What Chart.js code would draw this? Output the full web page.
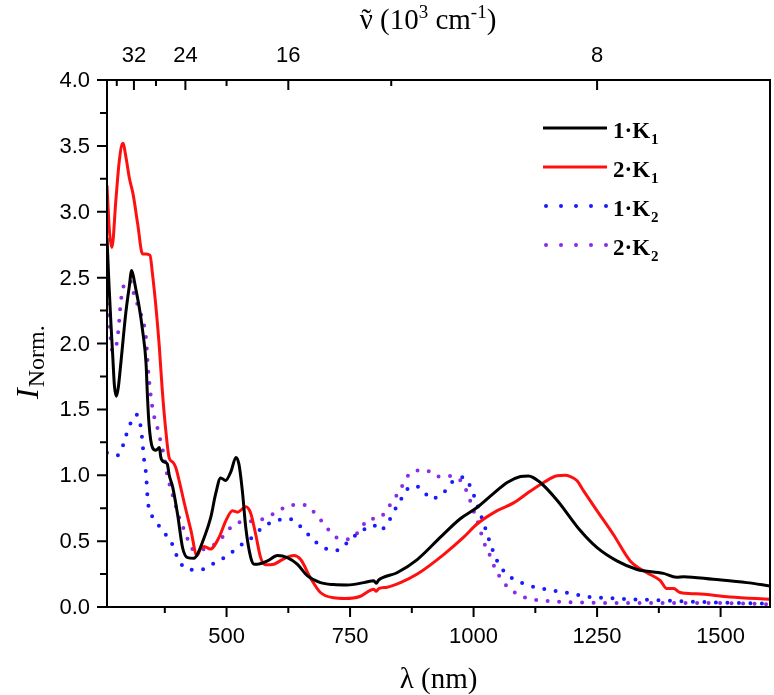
<!DOCTYPE html>
<html>
<head>
<meta charset="utf-8">
<script src="https://cdn.jsdelivr.net/npm/chart.js@4.4.1/dist/chart.umd.min.js"></script>
<style>
  html, body { margin: 0; padding: 0; background: #fff; }
</style>
</head>
<body>
<canvas id="chart" width="774" height="695"></canvas>
<script>
// axis ranges and tick values
const lamMin = 258, lamMax = 1600;
const lamMajor = [500, 750, 1000, 1250, 1500];
const lamMinor = [375, 625, 875, 1125, 1375];
const nuMajor = [32, 24, 16, 8];      // 10^3 cm-1
const nuMinor = [36, 28, 20, 12];
const yMajor = [0, 0.5, 1, 1.5, 2, 2.5, 3, 3.5, 4];
const yMinor = [0.25, 0.75, 1.25, 1.75, 2.25, 2.75, 3.25, 3.75];

// series names (base + subscript)
const legendBase = ["1·K", "2·K", "1·K", "2·K"];
const legendSub = ["1", "1", "2", "2"];

// 1·K1 (black)
const k11Nm = [258, 262, 266, 270, 273, 277, 281, 286, 296, 303, 308, 313, 317, 323, 330, 337, 340, 343, 350, 357, 364, 367, 374, 380, 384, 391, 401, 411, 421, 434, 441, 455, 468, 478, 488, 498, 509, 519, 525, 532, 539, 549, 556, 562, 583, 603, 623, 643, 664, 690, 717, 744, 778, 798, 803, 808, 845, 886, 933, 973, 1007, 1040, 1068, 1095, 1111, 1135, 1169, 1216, 1250, 1290, 1331, 1384, 1411, 1425, 1485, 1553, 1600];
const k11I = [2.8, 2.45, 2.15, 1.88, 1.68, 1.60, 1.67, 1.85, 2.23, 2.43, 2.555, 2.48, 2.40, 2.28, 2.10, 1.85, 1.59, 1.39, 1.21, 1.19, 1.21, 1.135, 1.10, 1.085, 1.0, 0.91, 0.70, 0.45, 0.375, 0.37, 0.40, 0.53, 0.68, 0.86, 0.98, 0.96, 1.03, 1.135, 1.085, 0.88, 0.60, 0.375, 0.325, 0.325, 0.35, 0.39, 0.375, 0.325, 0.236, 0.185, 0.17, 0.167, 0.185, 0.20, 0.18, 0.205, 0.26, 0.36, 0.53, 0.67, 0.755, 0.86, 0.945, 0.99, 0.995, 0.945, 0.81, 0.58, 0.45, 0.35, 0.285, 0.255, 0.225, 0.23, 0.21, 0.185, 0.16];

// 2·K1 (red)
const k21Nm = [258, 263, 268, 276, 283, 290, 297, 303, 311, 320, 330, 337, 345, 350, 357, 364, 370, 377, 384, 391, 397, 404, 415, 428, 440, 447, 455, 467, 485, 498, 512, 522, 539, 549, 559, 569, 579, 596, 613, 636, 650, 670, 690, 717, 740, 770, 798, 803, 808, 825, 852, 886, 940, 980, 1007, 1047, 1081, 1115, 1142, 1169, 1185, 1196, 1209, 1223, 1250, 1283, 1317, 1351, 1378, 1391, 1405, 1418, 1452, 1519, 1600];
const k21I = [3.20, 2.85, 2.73, 3.09, 3.39, 3.52, 3.40, 3.26, 3.13, 2.91, 2.68, 2.68, 2.67, 2.53, 2.28, 1.97, 1.64, 1.34, 1.13, 1.10, 1.06, 0.96, 0.78, 0.58, 0.39, 0.44, 0.46, 0.44, 0.53, 0.65, 0.73, 0.72, 0.76, 0.71, 0.55, 0.375, 0.32, 0.325, 0.36, 0.39, 0.36, 0.22, 0.11, 0.07, 0.065, 0.08, 0.135, 0.12, 0.14, 0.15, 0.185, 0.25, 0.40, 0.53, 0.63, 0.73, 0.79, 0.88, 0.945, 0.996, 1.0, 0.99, 0.96, 0.88, 0.73, 0.55, 0.35, 0.26, 0.20, 0.14, 0.14, 0.11, 0.10, 0.076, 0.058];

// 1·K2 (blue, dotted)
const k12Nm = [258, 263, 275, 285, 293, 304, 318, 327, 330, 333, 337, 341, 354, 370, 387, 401, 418, 445, 471, 502, 525, 549, 572, 596, 626, 653, 674, 697, 724, 751, 775, 798, 810, 828, 838, 852, 866, 882, 903, 913, 940, 960, 980, 994, 1007, 1021, 1034, 1047, 1064, 1088, 1115, 1145, 1175, 1206, 1233, 1263, 1293, 1324, 1384, 1445, 1506, 1600];
const k12I = [1.17, 1.17, 1.15, 1.165, 1.26, 1.38, 1.46, 1.35, 1.24, 1.12, 1.01, 0.79, 0.67, 0.58, 0.50, 0.375, 0.29, 0.28, 0.325, 0.39, 0.46, 0.52, 0.60, 0.65, 0.67, 0.60, 0.515, 0.45, 0.43, 0.515, 0.58, 0.62, 0.58, 0.65, 0.72, 0.81, 0.895, 0.92, 0.86, 0.82, 0.87, 0.96, 0.985, 0.91, 0.78, 0.63, 0.48, 0.355, 0.26, 0.20, 0.16, 0.135, 0.117, 0.096, 0.076, 0.07, 0.063, 0.058, 0.05, 0.04, 0.033, 0.025];

// 2·K2 (purple, dotted)
const k22Nm = [258, 263, 265, 269, 276, 281, 286, 292, 304, 313, 323, 332, 337, 341, 347, 352, 360, 367, 374, 379, 394, 404, 418, 428, 441, 461, 485, 502, 522, 549, 575, 603, 630, 657, 684, 701, 721, 748, 771, 788, 805, 818, 837, 852, 862, 879, 903, 926, 953, 977, 990, 1000, 1010, 1020, 1032, 1044, 1061, 1081, 1108, 1135, 1169, 1229, 1300, 1400, 1500, 1600];
const k22I = [2.30, 2.16, 2.05, 1.94, 1.97, 2.10, 2.32, 2.44, 2.48, 2.37, 2.26, 2.155, 2.04, 1.815, 1.59, 1.47, 1.36, 1.25, 1.135, 1.02, 0.81, 0.68, 0.55, 0.45, 0.43, 0.45, 0.50, 0.58, 0.64, 0.65, 0.67, 0.725, 0.775, 0.775, 0.69, 0.61, 0.53, 0.515, 0.59, 0.67, 0.67, 0.705, 0.81, 0.89, 0.97, 1.03, 1.04, 0.99, 0.995, 0.945, 0.84, 0.73, 0.63, 0.50, 0.40, 0.29, 0.185, 0.117, 0.066, 0.05, 0.04, 0.033, 0.03, 0.03, 0.03, 0.02];

const pts = (xs, ys) => xs.map((x, i) => ({x: x, y: ys[i]}));

const sans = '"Liberation Sans", Arial, sans-serif';
const serif = '"Liberation Serif", "Times New Roman", serif';

// frame, tick marks, tick labels, titles and legend
const decor = {
    id: "decor",
    afterDraw(chart) {
        const {ctx, chartArea: a} = chart;
        const x = chart.scales.x, y = chart.scales.y;
        ctx.save();
        ctx.strokeStyle = "#000";
        ctx.fillStyle = "#000";
        ctx.lineWidth = 2;
        ctx.strokeRect(a.left, a.top, a.right - a.left, a.bottom - a.top);

        ctx.beginPath();
        lamMajor.forEach(v => { const p = x.getPixelForValue(v); ctx.moveTo(p, a.bottom); ctx.lineTo(p, a.bottom + 10); });
        lamMinor.forEach(v => { const p = x.getPixelForValue(v); ctx.moveTo(p, a.bottom); ctx.lineTo(p, a.bottom + 6); });
        yMajor.forEach(v => { const p = y.getPixelForValue(v); ctx.moveTo(a.left, p); ctx.lineTo(a.left - 10, p); });
        yMinor.forEach(v => { const p = y.getPixelForValue(v); ctx.moveTo(a.left, p); ctx.lineTo(a.left - 7, p); });
        nuMajor.forEach(n => { const p = x.getPixelForValue(1e4 / n); ctx.moveTo(p, a.top); ctx.lineTo(p, a.top + 10); });
        nuMinor.forEach(n => { const p = x.getPixelForValue(1e4 / n); ctx.moveTo(p, a.top); ctx.lineTo(p, a.top + 6); });
        ctx.stroke();

        // tick labels
        ctx.font = "22px " + sans;
        ctx.textBaseline = "middle";
        ctx.textAlign = "right";
        yMajor.forEach(v => ctx.fillText(v.toFixed(1), a.left - 17, y.getPixelForValue(v) + 1));
        ctx.textAlign = "center";
        lamMajor.forEach(v => ctx.fillText(String(v), x.getPixelForValue(v), a.bottom + 30));
        nuMajor.forEach(n => ctx.fillText(String(n), x.getPixelForValue(1e4 / n), a.top - 24));

        // bottom title
        ctx.textBaseline = "alphabetic";
        ctx.font = "29px " + serif;
        ctx.fillText("λ (nm)", (a.left + a.right) / 2, a.bottom + 81);

        // top title: nu-tilde (10^3 cm^-1)
        ctx.textAlign = "left";
        const parts = [
            ["ν", 29, 0], [" (10", 29, 0], ["3", 19, -11], [" cm", 29, 0], ["-1", 19, -11], [")", 29, 0]
        ];
        let total = 0;
        parts.forEach(p => { ctx.font = p[1] + "px " + serif; total += ctx.measureText(p[0]).width; });
        let cx = 428 - total / 2;
        const base = 29;
        parts.forEach((p, i) => {
            ctx.font = p[1] + "px " + serif;
            const w = ctx.measureText(p[0]).width;
            ctx.fillText(p[0], cx, base + p[2]);
            if (i === 0) {
                ctx.textAlign = "center";
                ctx.fillText("˜", cx + w / 2, base);
                ctx.textAlign = "left";
            }
            cx += w;
        });

        // y title: I_Norm.
        ctx.save();
        ctx.translate(38, 399);
        ctx.rotate(-Math.PI / 2);
        ctx.font = "italic 32px " + serif;
        ctx.fillText("I", 0, 0);
        const iw = ctx.measureText("I").width;
        ctx.font = "24px " + serif;
        ctx.fillText("Norm.", iw + 1, 6);
        ctx.restore();

        // legend
        chart.data.datasets.forEach((ds, i) => {
            const ly = a.top + 48 + i * 39;
            const lx = a.right - 227;
            ctx.save();
            ctx.strokeStyle = ds.borderColor;
            ctx.lineWidth = ds.borderWidth;
            ctx.lineCap = ds.borderCapStyle || "butt";
            ctx.setLineDash(ds.borderDash ? [0, 15] : []);
            ctx.beginPath();
            ctx.moveTo(lx + (ds.borderDash ? 3 : 0), ly);
            ctx.lineTo(lx + 64, ly);
            ctx.stroke();
            ctx.restore();
            ctx.font = "bold 23px " + serif;
            ctx.fillText(legendBase[i], lx + 70, ly + 10);
            const bw = ctx.measureText(legendBase[i]).width;
            ctx.font = "bold 15px " + serif;
            ctx.fillText(legendSub[i], lx + 70 + bw + 1, ly + 16);
        });
        ctx.restore();
    }
};

const solid = (label, color, xs, ys) => ({
    label: label, data: pts(xs, ys), borderColor: color, backgroundColor: color,
    borderWidth: 3, pointRadius: 0, cubicInterpolationMode: "monotone", fill: false
});
const dotted = (label, color, xs, ys) => ({
    label: label, data: pts(xs, ys), borderColor: color, backgroundColor: color,
    borderWidth: 4, borderDash: [0, 11.5], borderCapStyle: "round",
    pointRadius: 0, cubicInterpolationMode: "monotone", fill: false
});

new Chart(document.getElementById("chart"), {
    type: "line",
    data: {
        datasets: [
            solid("1·K₁", "#000000", k11Nm, k11I),
            solid("2·K₁", "#ff1010", k21Nm, k21I),
            dotted("1·K₂", "#1a1aff", k12Nm, k12I),
            dotted("2·K₂", "#8a2be8", k22Nm, k22I)
        ]
    },
    options: {
        responsive: false,
        animation: false,
        layout: { padding: { left: 107, right: 4, top: 80, bottom: 88 } },
        plugins: { legend: { display: false }, tooltip: { enabled: false } },
        scales: {
            x: { type: "linear", display: false, min: lamMin, max: lamMax },
            y: { type: "linear", display: false, min: 0, max: 4 }
        }
    },
    plugins: [decor]
});
</script>
</body>
</html>
